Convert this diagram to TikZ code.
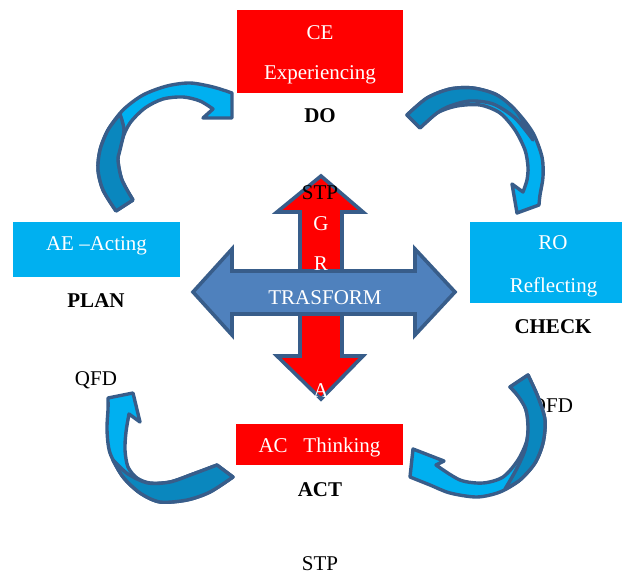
\documentclass[tikz,border=0pt]{standalone}
\usepackage{fontspec}
\setmainfont{Liberation Serif}
\definecolor{pptred}{RGB}{255,0,0}
\definecolor{pptcyan}{RGB}{0,176,240}
\definecolor{pptborder}{RGB}{56,93,138}
\definecolor{pptblue}{RGB}{79,129,189}
\definecolor{pptdark}{RGB}{10,135,190}
\begin{document}
\begin{tikzpicture}[x=1pt,y=-1pt,
  txt/.style={font=\fontsize{21}{25}\selectfont, inner sep=0pt, anchor=base},
  wtxt/.style={txt, text=white},
  btxt/.style={txt, font=\fontsize{21}{25}\selectfont\bfseries},
  redbox/.style={fill=pptred, draw=none, inner sep=0pt},
  cyanbox/.style={fill=pptcyan, draw=none, inner sep=0pt},
  crossarrow/.style={draw=pptborder, line width=3.6pt, line join=miter},
  curvlight/.style={fill=pptcyan, draw=pptborder, line width=3.4pt, line join=round},
  curvdark/.style={fill=pptdark, draw=pptborder, line width=3.4pt, line join=round}
]
\useasboundingbox (0,0) rectangle (622,575);

% boxes
\node[redbox, minimum width=166pt, minimum height=83pt] (ce) at (320,51.5) {};
\node[cyanbox, minimum width=167pt, minimum height=55pt] (ae) at (96.5,249.5) {};
\node[cyanbox, minimum width=152pt, minimum height=81pt] (ro) at (546,262.5) {};
\node[redbox, minimum width=167pt, minimum height=41pt] (ac) at (319.5,444.5) {};

% box texts
\node[wtxt] (ce1) at (320,40) {CE};
\node[wtxt] (ce2) at (320,80) {Experiencing};
\node[btxt] (do) at (320,123) {DO};
\node[wtxt] (ae1) at (96.5,251) {AE –Acting};
\node[btxt] (plan) at (96,307) {PLAN};
\node[wtxt] (ro1) at (553,250) {RO};
\node[wtxt] (ro2) at (553.5,292) {Reflecting};
\node[btxt] (check) at (553,333) {CHECK};
\node[wtxt] (ac1) at (319.5,452) {AC\ \ \ Thinking};
\node[btxt] (act) at (320,496) {ACT};
\node[txt] (qfdl) at (96,385) {QFD};
\node[txt] (qfdr) at (552,412) {QFD};
\node[txt] (stpb) at (320,570) {STP};

% central cross
\draw[crossarrow, fill=pptred] (321,176) -- (363,212) -- (342,212) -- (342,356) -- (363,356) -- (321,399)
  -- (277,356) -- (300,356) -- (300,212) -- (277,212) -- cycle;
\draw[crossarrow, fill=pptblue] (193,292) -- (232,249) -- (232,271) -- (415,271) -- (415,249) -- (455,292)
  -- (415,335) -- (415,314) -- (232,314) -- (232,335) -- cycle;
\node[txt] (stpt) at (320,200) {STP};
\node[wtxt] (g) at (321,231) {G};
\node[wtxt] (r) at (321,271) {R};
\node[wtxt] (trasform) at (325,305) {TRASFORM};
\node[wtxt] (a) at (321,397) {A};

% top-left curved arrow
\draw[curvlight] plot[smooth] coordinates {(116,211) (103,190) (98,170) (100,150) (108,130) (123,110) (143,95) (167,86) (190,83) (213,87) (232,93)}
  -- (232,118) -- (203,118) -- (213,109)
  -- plot[smooth] coordinates {(213,109) (200,101) (183,97) (163,99) (145,108) (130,123) (122,140) (118,160) (122,180) (133,200)} -- cycle;
\draw[curvdark] plot[smooth] coordinates {(116,211) (103,190) (98,170) (100,150) (108,130) (120,114)}
  -- plot[smooth] coordinates {(120,114) (124,130) (120,150) (118,160) (122,180) (133,200)} -- cycle;

% top-right curved arrow
\draw[curvlight] plot[smooth] coordinates {(407,115) (427,98) (450,89) (473,88) (497,95) (517,112) (533,133) (542,157) (543,177) (540,195) (539,205)}
  -- (517,213) -- (512,184) -- (523,192)
  -- plot[smooth] coordinates {(523,192) (527,180) (528,167) (525,150) (515,130) (500,113) (480,105) (457,106) (437,113) (420,128)} -- cycle;
\draw[curvdark] plot[smooth] coordinates {(407,115) (427,98) (450,89) (473,88) (497,95) (517,112) (533,140)}
  -- plot[smooth] coordinates {(533,140) (515,118) (493,104) (470,101) (450,106) (437,113) (420,128)} -- cycle;

% bottom-left curved arrow
\draw[curvlight] plot[smooth] coordinates {(233,477) (210,492) (187,500) (160,502) (140,493) (123,477) (110,453) (107,430) (108,410) (108,398)}
  -- (133,393) -- (140,422) -- (129,414)
  -- plot[smooth] coordinates {(129,414) (126,432) (125,450) (128,467) (137,478) (150,483) (170,482) (193,474) (217,465)} -- cycle;
\draw[curvdark] plot[smooth] coordinates {(233,477) (210,492) (187,500) (160,502) (140,493) (123,477) (113,460)}
  -- plot[smooth] coordinates {(113,460) (128,474) (148,483) (170,482) (193,474) (217,465)} -- cycle;

% bottom-right curved arrow
\draw[curvlight] plot[smooth] coordinates {(528,375) (538,397) (545,420) (543,443) (535,463) (520,480) (500,492) (477,497) (450,493) (430,485) (410,477)}
  -- (413,449) -- (444,461) -- (436,465)
  -- plot[smooth] coordinates {(436,465) (460,480) (483,483) (503,477) (518,460) (527,440) (528,420) (523,402) (510,387)} -- cycle;
\draw[curvdark] plot[smooth] coordinates {(528,375) (538,397) (545,420) (543,443) (535,463) (520,480) (505,489)}
  -- plot[smooth] coordinates {(505,489) (516,470) (525,450) (528,430) (526,410) (518,396) (510,387)} -- cycle;
\end{tikzpicture}
\end{document}
